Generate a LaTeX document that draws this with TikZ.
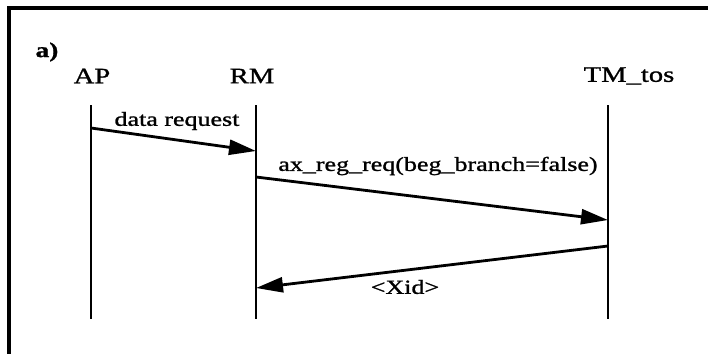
\documentclass[tikz,border=0pt]{standalone}
\usepackage{fontspec}
\setmainfont{Liberation Serif}[FakeStretch=1.3,FakeBold=1.2]
\usetikzlibrary{arrows.meta}
\begin{document}
\begin{tikzpicture}[x=1pt,y=-1pt,
  lifeline/.style={line width=2.6pt},
  msg/.style={line width=2.8pt,-{Triangle[length=27pt,width=15pt]}},
  actor/.style={inner sep=0pt,font=\fontsize{22}{26}\selectfont},
  msglabel/.style={inner sep=0pt,font=\fontsize{20}{24}\selectfont},
  frameline/.style={line width=3.5pt}]
\useasboundingbox (0,0) rectangle (708,354);
% frame (only top and left edges visible)
\coordinate (fTL) at (9,8);
\coordinate (fTR) at (708,8);
\coordinate (fBL) at (9,354);
\draw[frameline] (fTR) -- (fTL) -- (fBL);
\node[inner sep=0pt,font=\bfseries\fontsize{21}{24}\selectfont] (lab) at (47,52) {a)};
% actors
\node[actor] (AP) at (92,76) {AP};
\node[actor] (RM) at (252,76) {RM};
\node[actor] (TM) at (629,76) {TM\_tos};
% lifelines
\coordinate (APt) at (91,105);  \coordinate (APb) at (91,319);
\coordinate (RMt) at (256,105); \coordinate (RMb) at (256,319);
\coordinate (TMt) at (608,105); \coordinate (TMb) at (608,319);
\draw[lifeline] (APt) -- (APb);
\draw[lifeline] (RMt) -- (RMb);
\draw[lifeline] (TMt) -- (TMb);
% messages
\coordinate (m1s) at (91,128);  \coordinate (m1e) at (256,151);
\coordinate (m2s) at (256,177); \coordinate (m2e) at (608,220);
\coordinate (m3s) at (608,246); \coordinate (m3e) at (256,288);
\draw[msg] (m1s) -- (m1e);
\draw[msg] (m2s) -- (m2e);
\draw[msg] (m3s) -- (m3e);
\node[msglabel] (l1) at (177,121) {data request};
\node[msglabel] (l2) at (438,166) {ax\_reg\_req(beg\_branch=false)};
\node[msglabel] (l3) at (405,287) {<Xid>};
\end{tikzpicture}
\end{document}
